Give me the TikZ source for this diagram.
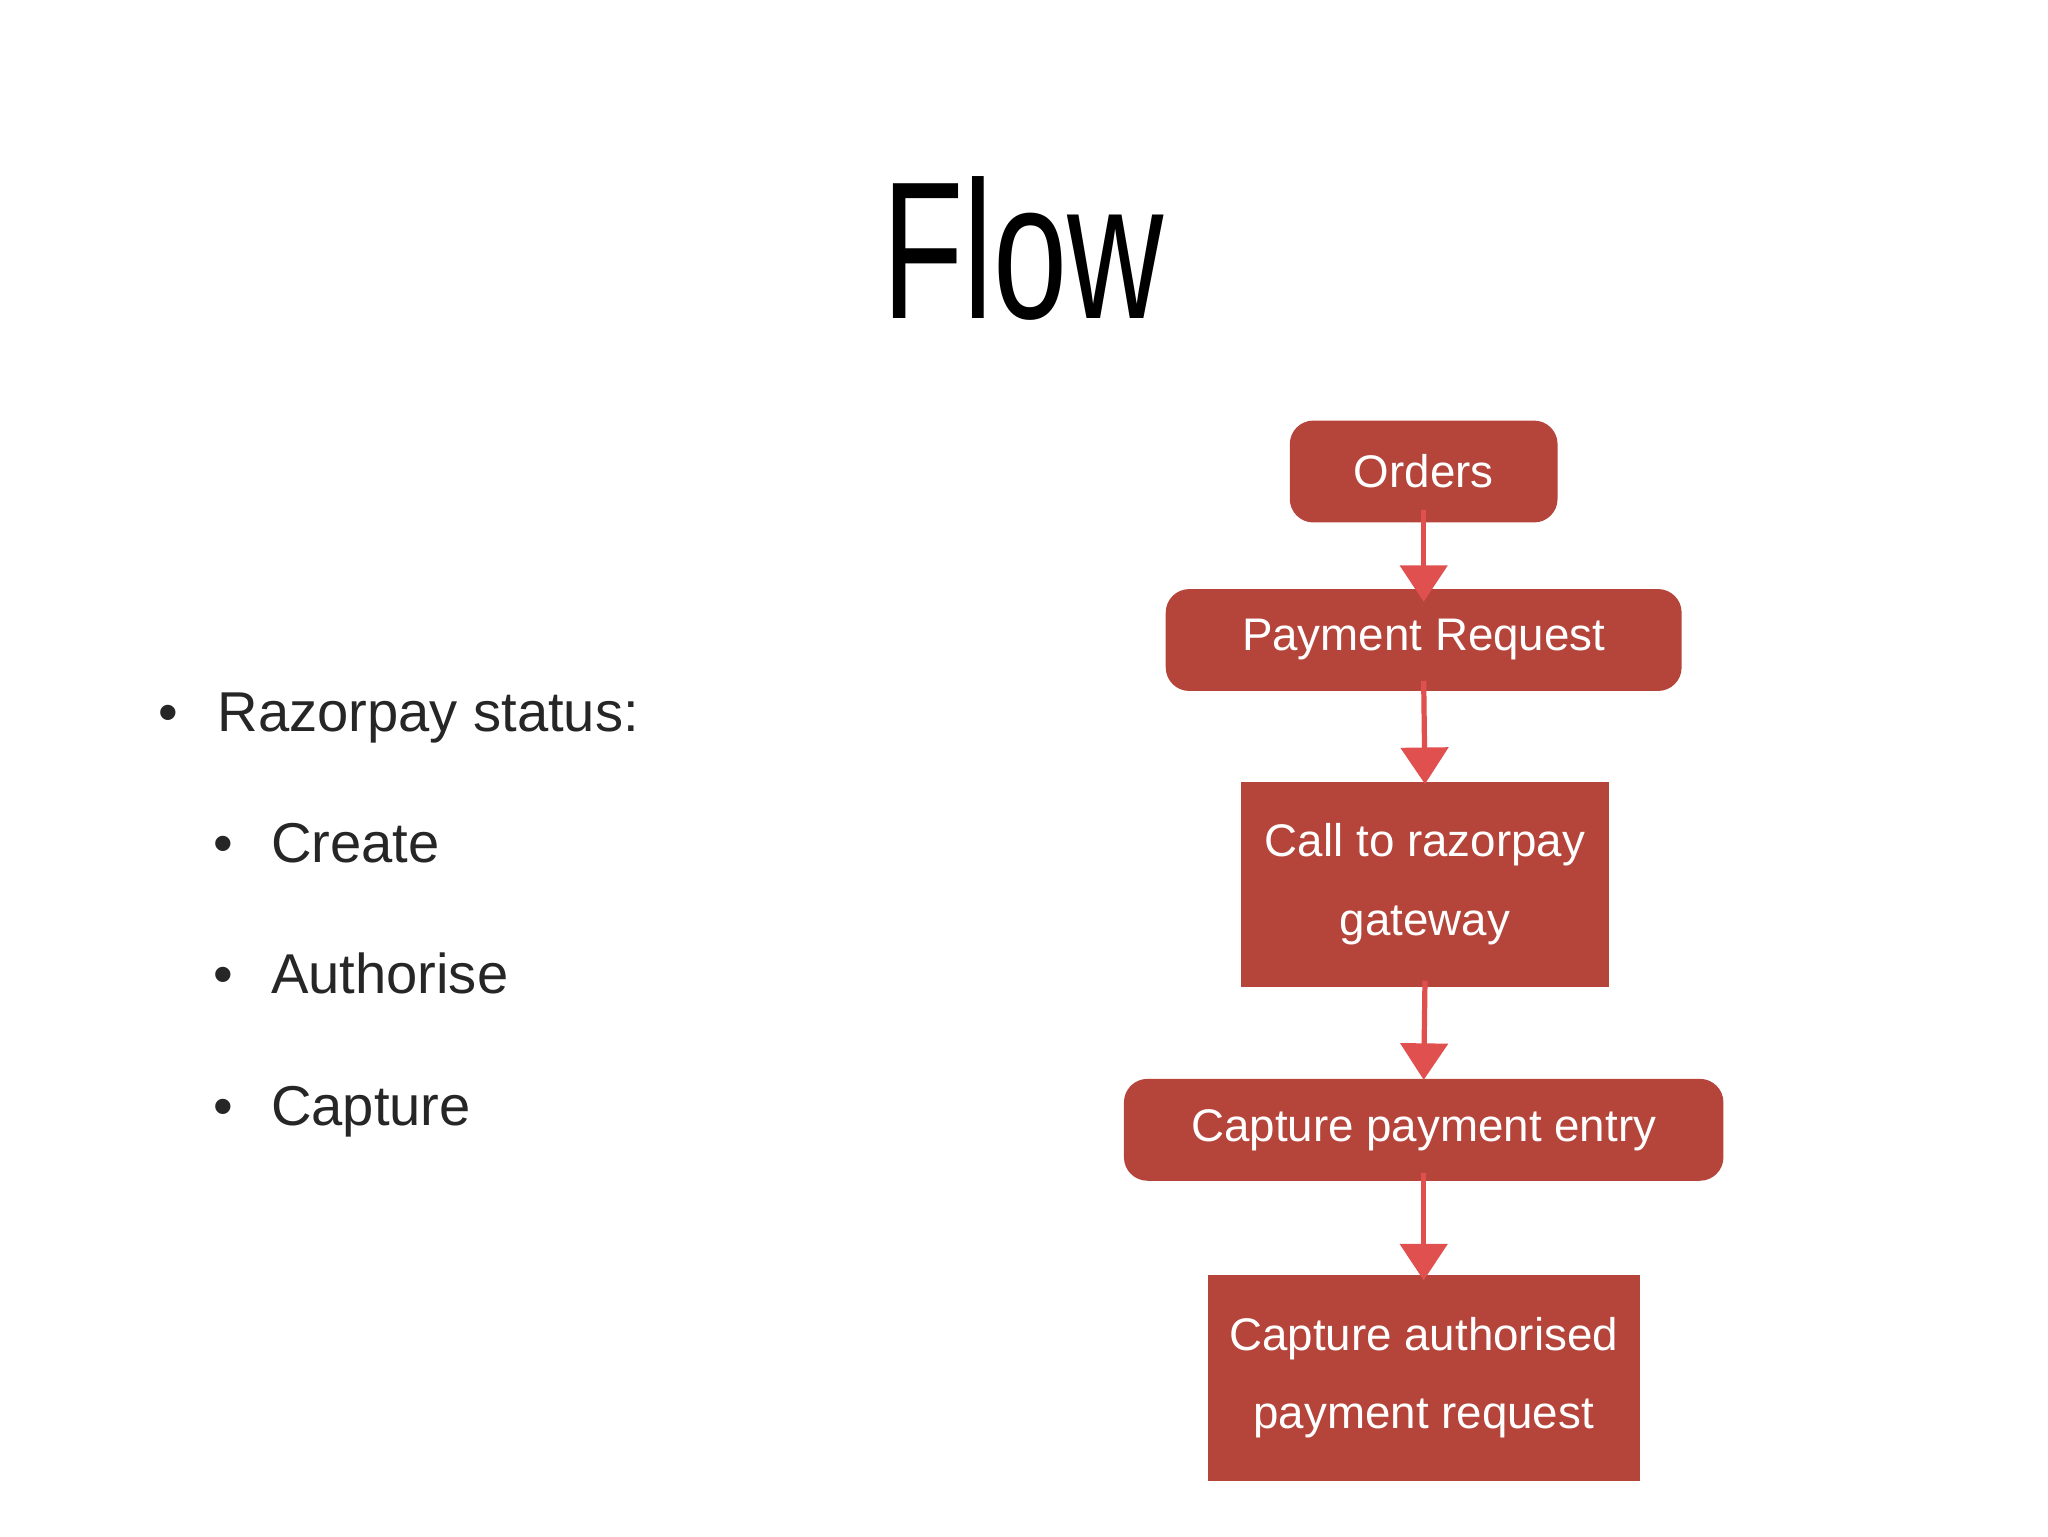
\documentclass[tikz,border=0pt]{standalone}
\usepackage{fontspec}
\setmainfont{Liberation Sans}
\usetikzlibrary{arrows.meta}
\definecolor{boxred}{HTML}{B5443A}
\definecolor{arrred}{HTML}{E0504F}
\begin{document}
\begin{tikzpicture}[x=1pt,y=-1pt,
  box/.style={fill=boxred,draw=none,text=white,font=\fontsize{35}{60}\selectfont,align=center,inner sep=0pt},
  rbox/.style={box,rounded corners=18pt},
  arr/.style={draw=arrred,line width=4pt,-{Triangle[width=36pt,length=28pt]}},
  txt/.style={anchor=base west,font=\fontsize{43}{50}\selectfont,text=black!85}]
\useasboundingbox (0,0) rectangle (1568,1176);
\node[font=\fontsize{150}{150}\selectfont,xscale=0.68] (title) at (783,190) {Flow};
\node[rbox,minimum width=205pt,minimum height=78pt] (o) at (1090,361) {Orders};
\node[rbox,minimum width=395pt,minimum height=78pt] (p) at (1090,490) {Payment Request};
\node[box,minimum width=281pt,minimum height=157pt] (c) at (1091,677) {Call to razorpay\\gateway};
\node[rbox,minimum width=459pt,minimum height=78pt] (e) at (1090,865) {Capture payment entry};
\node[box,minimum width=331pt,minimum height=157pt] (a) at (1090,1055) {Capture authorised\\payment request};
\draw[arr] ([yshift=10pt]o.south) -- ([yshift=-10pt]p.north);
\draw[arr] ([yshift=8pt]p.south) -- ([yshift=-2pt]c.north);
\draw[arr] ([yshift=5pt]c.south) -- ([yshift=-1pt]e.north);
\draw[arr] ([yshift=6pt]e.south) -- ([yshift=-4pt]a.north);
\node[txt] (b0) at (118,560) {•};
\node[txt] (t0) at (163,560) {Razorpay status:};
\node[txt] (b1) at (160,660) {•};
\node[txt] (t1) at (204,660) {Create};
\node[txt] (b2) at (160,761) {•};
\node[txt] (t2) at (204,761) {Authorise};
\node[txt] (b3) at (160,862) {•};
\node[txt] (t3) at (204,862) {Capture};
\end{tikzpicture}
\end{document}
